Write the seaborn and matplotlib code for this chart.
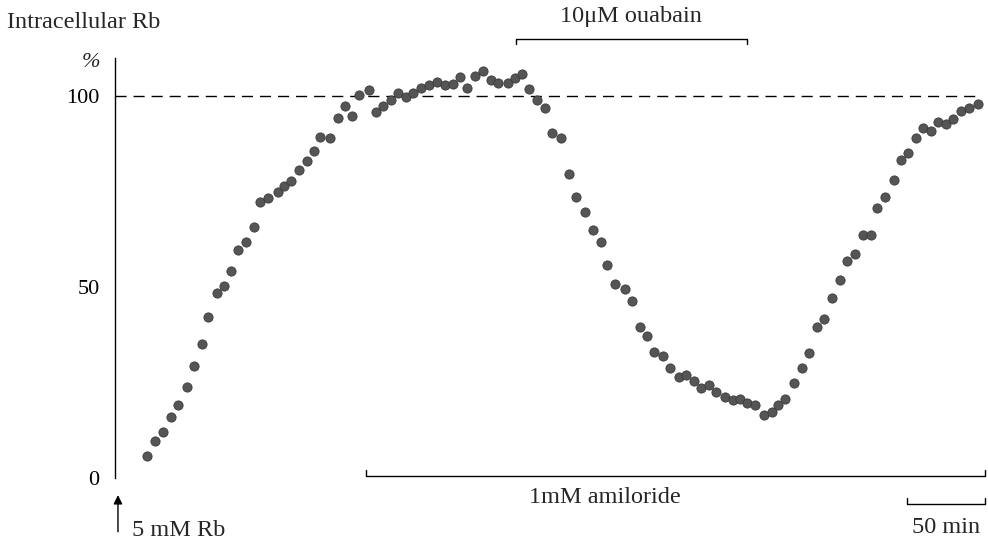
import matplotlib
matplotlib.use("Agg")
import matplotlib.pyplot as plt
import seaborn as sns
import pandas as pd

# time after Rb addition (min) and intracellular Rb (% of steady state)
time_min = [20.3, 25.8, 31.0, 36.1, 40.2, 46.0, 50.4, 55.6, 59.8, 65.6,
            69.7, 74.6, 78.8, 84.0, 89.1, 93.1, 98.3, 104.3, 108.3, 112.8,
            117.8, 122.9, 127.8, 131.6, 137.6, 142.9, 147.4, 152.1, 156.3, 162.6,
            167.5, 171.8, 176.9, 181.6, 186.5, 191.0, 196.3, 201.5, 206.6, 211.5,
            216.5, 221.0, 225.8, 230.8, 235.9, 241.0, 245.7, 251.6, 256.2, 261.0,
            265.3, 270.5, 275.6, 280.1, 285.9, 291.0, 295.8, 301.3, 306.4, 311.7,
            315.6, 320.7, 326.7, 331.4, 336.5, 341.0, 345.5, 351.1, 356.0, 361.7,
            366.2, 371.2, 375.8, 381.0, 385.4, 391.2, 396.0, 400.5, 404.9, 410.4,
            416.0, 421.2, 425.2, 429.5, 435.3, 440.4, 445.1, 450.2, 454.7, 459.4,
            464.6, 469.4, 474.4, 479.3, 484.6, 488.3, 493.8, 499.2, 503.7, 508.5,
            513.5, 517.8, 523.1, 527.6, 532.7, 537.0, 542.1, 547.6, 553.0]
rb_pct = [5.8, 9.7, 12.2, 16.1, 19.3, 23.8, 29.4, 35.1, 42.2, 48.5,
          50.4, 54.3, 59.9, 61.8, 65.8, 72.3, 73.5, 74.9, 76.5, 77.9,
          80.8, 83.2, 85.7, 89.3, 89.1, 94.3, 97.4, 95.0, 100.5, 101.6,
          95.9, 97.6, 99.1, 101.0, 99.9, 101.0, 102.2, 103.1, 103.9, 103.1,
          103.4, 105.2, 102.2, 105.4, 106.6, 104.2, 103.6, 103.5, 104.8, 105.8,
          101.9, 99.1, 96.9, 90.4, 89.1, 79.6, 73.7, 69.7, 65.1, 62.0,
          55.9, 51.0, 49.6, 46.5, 39.6, 37.4, 33.0, 32.0, 28.8, 26.5,
          27.0, 25.6, 23.7, 24.4, 22.7, 21.2, 20.4, 20.9, 19.8, 19.1,
          16.6, 17.4, 19.2, 20.8, 25.0, 28.8, 32.7, 39.6, 41.7, 47.1,
          52.0, 56.9, 58.7, 63.6, 63.6, 70.9, 73.7, 78.0, 83.4, 85.1,
          89.2, 91.7, 91.0, 93.4, 92.8, 94.0, 96.3, 96.9, 98.0]

y_ticks = [0, 50, 100]
ouabain_span = [257.1, 405.3]
amiloride_span = [160.9, 557.7]
scale_bar = [507.7, 557.7]   # 50 min

df = pd.DataFrame({"time": time_min, "rb": rb_pct})

sns.set_style("white")
plt.rcParams["font.family"] = ["Liberation Serif", "DejaVu Serif"]

fig = plt.figure(figsize=(9.88, 5.43), dpi=100)
ax = fig.add_axes([115 / 988, 64.7 / 543, 873 / 988, 420 / 543])

sns.scatterplot(data=df, x="time", y="rb", ax=ax, s=44, color="#555555",
                edgecolor="#3a3a3a", linewidth=0.6, zorder=3)

# 100 % reference line
ax.axhline(100, xmin=0, xmax=0.99, color="black", lw=1, dashes=(8, 5))

ax.set_xlim(0, 559.6)
ax.set_ylim(0, 110)
ax.set_xlabel("")
ax.set_ylabel("")
ax.set_xticks([])
ax.set_yticks(y_ticks)
ax.tick_params(axis="y", direction="in", length=5, width=1, pad=11,
               labelsize=16, colors="black")
for side in ["top", "right", "bottom"]:
    ax.spines[side].set_visible(False)
ax.spines["left"].set_color("black")
ax.spines["left"].set_linewidth(1)

fs = 17.5

# drug brackets
kw = dict(color="black", lw=1, clip_on=False)
x0, x1 = ouabain_span
ax.plot([x0, x0, x1, x1], [113.8, 115.1, 115.1, 113.8], **kw)
ax.text((x0 + x1) / 2 - 0.5, 120.9, "10μM ouabain", ha="center", va="center",
        fontsize=fs)

x0, x1 = amiloride_span
ax.plot([x0, x0, x1, x1], [2.3, 0.6, 0.6, 2.3], **kw)
ax.text(314, -5.0, "1mM amiloride", ha="center", va="center", fontsize=fs)

x0, x1 = scale_bar
ax.plot([x0, x0, x1, x1], [-5.1, -6.7, -6.7, -5.1], **kw)
ax.text(533, -12.8, "50 min", ha="center", va="center", fontsize=fs)

# Rb addition arrow
ax.annotate("", xy=(1.9, -4.4), xytext=(1.9, -14.0), annotation_clip=False,
            arrowprops=dict(arrowstyle="-|>", lw=1, color="black",
                            mutation_scale=13, shrinkA=0, shrinkB=0))
ax.text(10.6, -13.6, "5 mM Rb", ha="left", va="center", fontsize=fs)

ax.text(-15.4, 108.8, "%", ha="center", va="center", fontsize=16,
        style="italic")
fig.text(7 / 988, 1 - 22 / 543, "Intracellular Rb", ha="left", va="center",
         fontsize=fs)

fig.savefig("out.png", dpi=100)
